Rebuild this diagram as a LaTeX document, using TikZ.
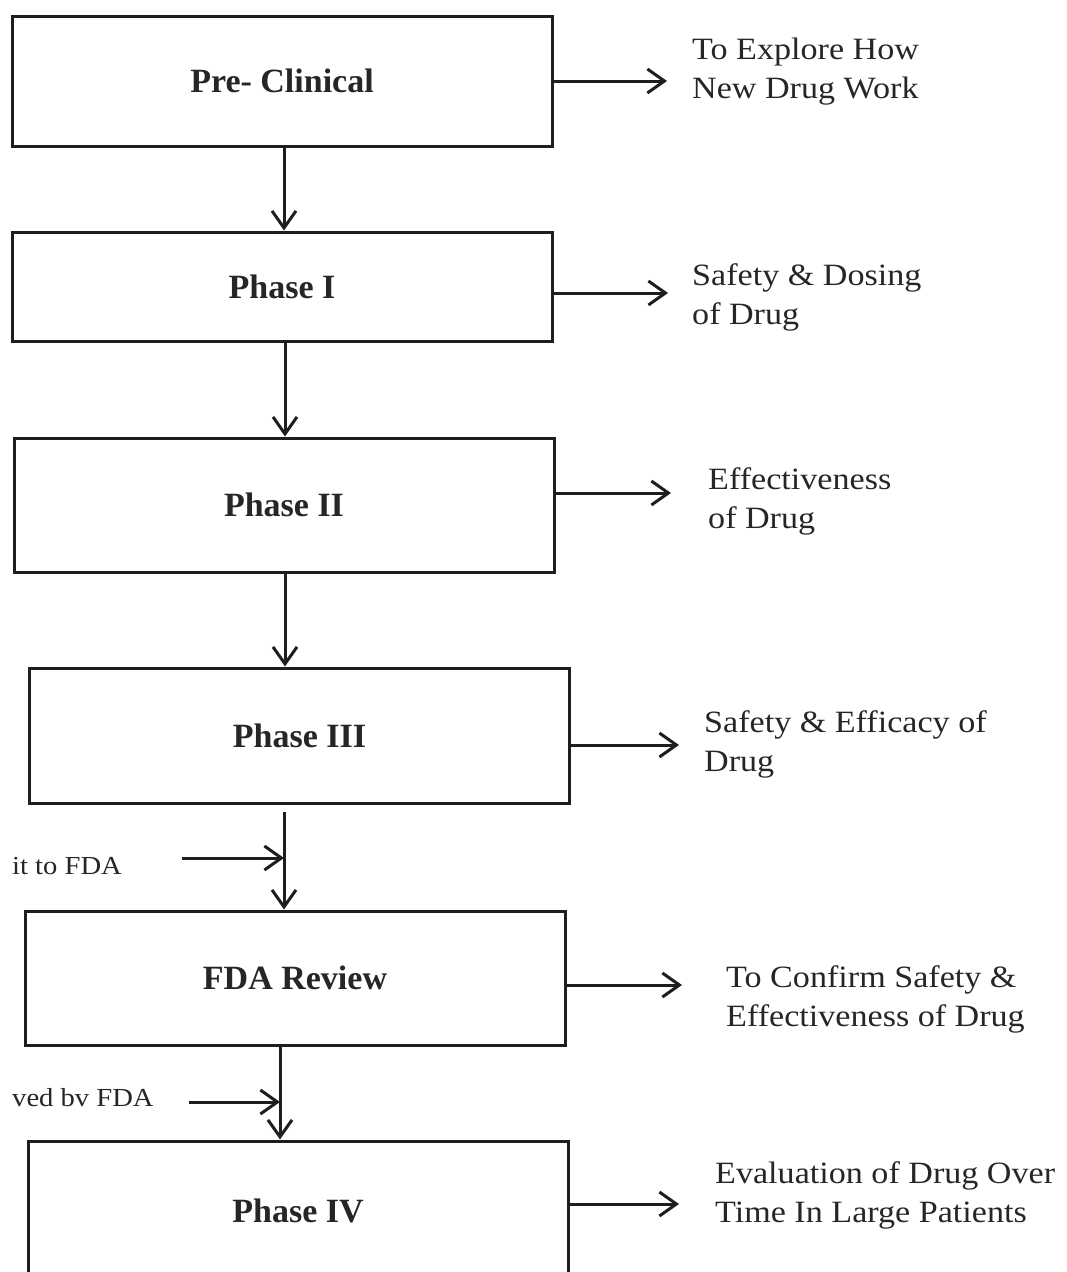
\documentclass[tikz,border=0pt]{standalone}
\usepackage{fontspec}
\setmainfont{Liberation Serif}
\newfontfamily\stretchfont[FakeStretch=1.1]{Liberation Serif}
\usetikzlibrary{arrows.meta,calc}
\definecolor{textcol}{HTML}{262626}
\definecolor{linecol}{HTML}{1E1E1E}
\begin{document}
\begin{tikzpicture}[x=1pt,y=-1pt,
  box/.style={draw=linecol, line width=3pt, minimum width=540pt, inner sep=0pt,
    font=\fontsize{34}{40}\selectfont\bfseries, text=textcol},
  note/.style={anchor=west, align=left, inner sep=0pt, text=textcol,
    font=\stretchfont\fontsize{31}{39}\selectfont},
  side/.style={anchor=west, inner sep=0pt, text=textcol,
    font=\stretchfont\fontsize{26}{30}\selectfont},
  arr/.style={line width=3pt, draw=linecol,
    -{Straight Barb[length=17pt,width=24pt,line width=3pt]}}
]
\useasboundingbox (0,0) rectangle (1066,1272);
\fill[white] (0,0) rectangle (1066,1272);
\begin{scope}
\clip (0,0) rectangle (1066,1272);

% main boxes
\node[box, minimum height=130pt] (pre) at (282,81) {Pre- Clinical};
\node[box, minimum height=109pt] (p1) at (282,286.5) {Phase I};
\node[box, minimum height=134pt] (p2) at (284,505) {Phase II};
\node[box, minimum height=135pt] (p3) at (299.5,735.5) {Phase III};
\node[box, minimum height=134pt] (fda) at (295,978) {FDA Review};
\node[box, minimum height=140pt] (p4) at (298,1211) {Phase IV};

% vertical connectors
\coordinate (a1) at (284,146);
\coordinate (a2) at (285,341);
\coordinate (a3) at (285,572);
\coordinate (a4) at (284,812);
\coordinate (a5) at (280,1045);
\draw[arr] (a1) -- (a1 |- p1.north);
\draw[arr] (a2) -- (a2 |- p2.north);
\draw[arr] (a3) -- (a3 |- p3.north);
\draw[arr] (a4) -- (a4 |- fda.north);
\draw[arr] (a5) -- (a5 |- p4.north);

% side notes
\node[note] (t0) at (692,71.5) {To Explore How\\New Drug Work};
\node[note] (t1) at (692,297) {Safety \& Dosing\\of Drug};
\node[note] (t2) at (708,501) {Effectiveness\\of Drug};
\node[note] (t3) at (704,744) {Safety \& Efficacy of\\Drug};
\node[note] (t4) at (726,999) {To Confirm Safety \&\\Effectiveness of Drug};
\node[note] (t5) at (715,1195) {Evaluation of Drug Over\\Time In Large Patients};

% right connectors
\coordinate (e0) at (667,81);
\coordinate (e1) at (668,293);
\coordinate (e2) at (671,493);
\coordinate (e3) at (679,745);
\coordinate (e4) at (682,985);
\coordinate (e5) at (679,1204);
\draw[arr] (pre.east |- e0) -- (e0);
\draw[arr] (p1.east |- e1) -- (e1);
\draw[arr] (p2.east |- e2) -- (e2);
\draw[arr] (p3.east |- e3) -- (e3);
\draw[arr] (fda.east |- e4) -- (e4);
\draw[arr] (p4.east |- e5) -- (e5);

% left labels
\node[side] (s1) at (12,866) {it to FDA};
\node[side] (s2) at (12,1098) {ved bv FDA};
\coordinate (l1) at (182,858);
\coordinate (l2) at (189,1102);
\draw[arr] (l1) -- (l1 -| a4);
\draw[arr] (l2) -- (l2 -| a5);
\end{scope}
\end{tikzpicture}
\end{document}
